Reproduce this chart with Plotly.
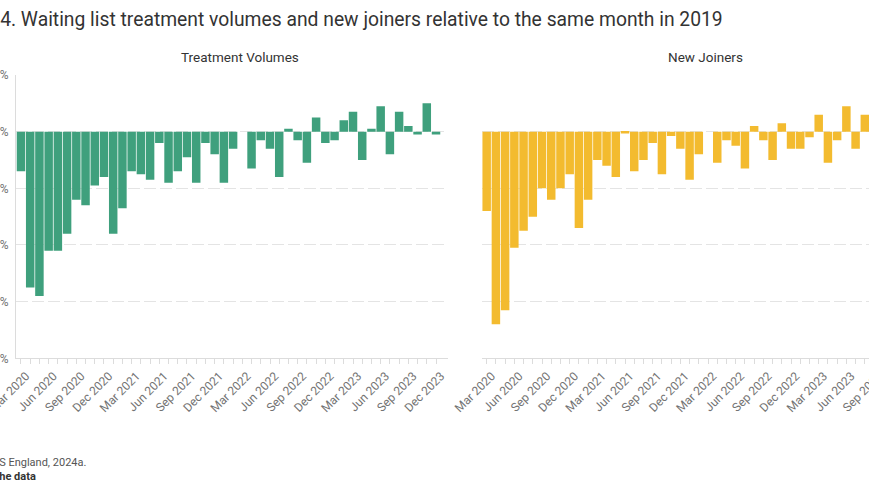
import plotly.graph_objects as go

# ---------------- data ----------------
months = [
    "Mar 2020", "Apr 2020", "May 2020", "Jun 2020", "Jul 2020", "Aug 2020", "Sep 2020", "Oct 2020",
    "Nov 2020", "Dec 2020", "Jan 2021", "Feb 2021", "Mar 2021", "Apr 2021", "May 2021", "Jun 2021",
    "Jul 2021", "Aug 2021", "Sep 2021", "Oct 2021", "Nov 2021", "Dec 2021", "Jan 2022", "Feb 2022",
    "Mar 2022", "Apr 2022", "May 2022", "Jun 2022", "Jul 2022", "Aug 2022", "Sep 2022", "Oct 2022",
    "Nov 2022", "Dec 2022", "Jan 2023", "Feb 2023", "Mar 2023", "Apr 2023", "May 2023", "Jun 2023",
    "Jul 2023", "Aug 2023", "Sep 2023", "Oct 2023", "Nov 2023", "Dec 2023",
]

# % change relative to same month in 2019
treatment_volumes = [
    -14, -55, -58, -42, -42, -36, -24, -26, -19, -16, -36, -27,
    -14, -15, -17, -4, -18, -14, -9, -18, -4, -8, -18, -6,
    None, -13, -3, -6, -16, 1, -3, -11, 5, -4, -3, 4,
    7, -10, 1, 9, -8, 7, 2, -1, 10, -1,
]

new_joiners = [
    -28, -68, -63, -41, -35, -30, -20, -24, -20, -15, -34, -24,
    -10, -12, -16, -0.6, -14, -10, -4, -15, -1.5, -6, -17, -8,
    None, -11, -3, -5, -13, 2, -3, -10, 3, -6, -6, -2,
    6, -11, -3, 9, -6, 6, None, None, None, None,
]

y_tick_values = [20, 0, -20, -40, -60, -80]
y_tick_labels = ["20%", "0%", "-20%", "-40%", "-60%", "-80%"]
x_tick_labels = [m if i % 3 == 0 else "" for i, m in enumerate(months)]

title_text = "Figure 4. Waiting list treatment volumes and new joiners relative to the same month in 2019"
panel_titles = ["Treatment Volumes", "New Joiners"]
source_text = "Source: NHS England, 2024a."
download_text = "Download the data"

# ---------------- styling ----------------
GREEN = "#3fa07d"
YELLOW = "#f3bb2f"
GRID = "#e4e4e4"
AXIS = "#dcdcdc"
TICKFONT = dict(family="Roboto", size=12, color="#737373")

W, H = 990, 504
SHIFT = 60  # the figure is wider than the window and shifted left (cropped view)


def px(x):
    return (x + SHIFT) / W


def py(y):
    return 1 - y / H


x_idx = list(range(len(months)))
x_range = [-0.54, 46.3]

fig = go.Figure()
fig.add_trace(go.Bar(x=x_idx, y=treatment_volumes, marker_color=GREEN,
                     marker_line_width=0, xaxis="x", yaxis="y", name=panel_titles[0]))
fig.add_trace(go.Bar(x=x_idx, y=new_joiners, marker_color=YELLOW,
                     marker_line_width=0, xaxis="x2", yaxis="y2", name=panel_titles[1]))

common_x = dict(
    range=x_range, tickmode="array", tickvals=x_idx, ticktext=x_tick_labels,
    tickangle=-45, ticks="outside", ticklen=5, tickcolor=AXIS, tickwidth=1,
    ticklabelshift=5,
    showline=True, linecolor=AXIS, linewidth=1, showgrid=False, zeroline=False,
    tickfont=TICKFONT, automargin=False, fixedrange=True,
)
common_y = dict(
    range=[-80, 20.01], tickmode="array", tickvals=y_tick_values, ticktext=y_tick_labels,
    showgrid=True, gridcolor=GRID, griddash="12px,4px", gridwidth=1, zeroline=False,
    ticks="", tickfont=TICKFONT, automargin=False, fixedrange=True,
    domain=[py(358.3), py(75)],
)

fig.update_layout(
    width=W, height=H, autosize=False,
    margin=dict(l=0, r=0, t=0, b=0, pad=0),
    paper_bgcolor="white", plot_bgcolor="white",
    showlegend=False, bargap=0.08,
    font=dict(family="Roboto", color="#333"),
    xaxis=dict(domain=[px(16), px(448)], anchor="y", **common_x),
    yaxis=dict(anchor="x", showline=True, linecolor=AXIS, linewidth=1,
               ticklabelstandoff=4, **common_y),
    xaxis2=dict(domain=[px(481.7), px(913.7)], anchor="y2", **common_x),
    yaxis2=dict(anchor="x2", showline=False, showticklabels=False, **common_y),
)

ann = [
    dict(text=title_text, x=px(-60), y=py(20), xanchor="left", yanchor="middle",
         font=dict(family="Roboto", size=19.3, color="#333")),
    dict(text=panel_titles[0], x=px(239.5), y=py(57), xanchor="center", yanchor="middle",
         font=dict(family="Roboto", size=13.5, color="#333")),
    dict(text=panel_titles[1], x=px(705.5), y=py(57), xanchor="center", yanchor="middle",
         font=dict(family="Roboto", size=13.5, color="#333")),
    dict(text=source_text, x=px(-58), y=py(462), xanchor="left", yanchor="middle",
         font=dict(family="Roboto", size=11, color="#555")),
    dict(text="<b>" + download_text + "</b>", x=px(-58), y=py(476.5), xanchor="left",
         yanchor="middle", font=dict(family="Roboto", size=11, color="#333")),
]
for a in ann:
    fig.add_annotation(xref="paper", yref="paper", showarrow=False, **a)

post_js = (
    "document.documentElement.style.overflow='hidden';"
    "document.body.style.margin='0';document.body.style.overflow='hidden';"
    "var gd=document.getElementById('{plot_id}');gd.style.marginLeft='-" + str(SHIFT) + "px';"
)

fig.write_html("out.html", config={"displayModeBar": False}, post_script=post_js)
